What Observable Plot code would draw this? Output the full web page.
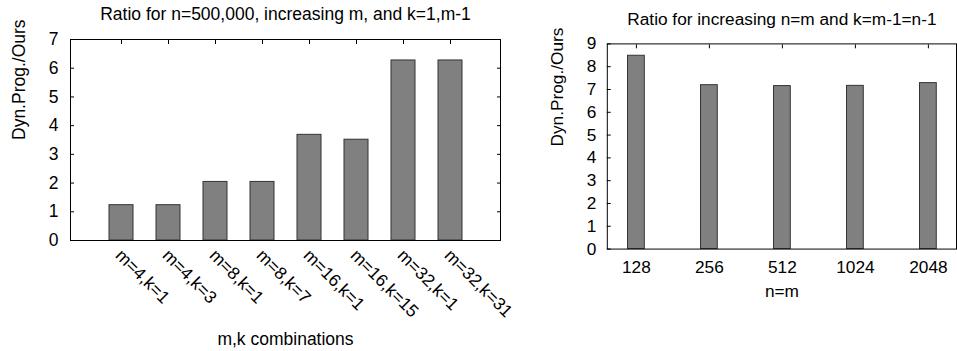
<!DOCTYPE html>
<html><head><meta charset="utf-8">
<script src="https://cdn.jsdelivr.net/npm/d3@7"></script>
<script src="https://cdn.jsdelivr.net/npm/@observablehq/plot@0.6"></script>
<style>
body{margin:0;background:#fff;}
#wrap{position:relative;width:957px;height:351px;overflow:hidden;background:#fff;}
#left,#right{position:absolute;top:0;}
#left{left:0;}
#right{left:520px;}
svg{display:block;}
</style></head>
<body><div id="wrap"><div id="left"></div><div id="right"></div></div>
<script>
// ---- data ----
const leftTitle = "Ratio for n=500,000, increasing m, and k=1,m-1";
const leftLabels = ["m=4,k=1","m=4,k=3","m=8,k=1","m=8,k=7","m=16,k=1","m=16,k=15","m=32,k=1","m=32,k=31"];
const leftValues = [1.23, 1.23, 2.04, 2.04, 3.68, 3.51, 6.27, 6.27];
const leftYTicks = [0,1,2,3,4,5,6,7];
const leftXLabel = "m,k combinations";

const rightTitle = "Ratio for increasing n=m and k=m-1=n-1";
const rightLabels = ["128","256","512","1024","2048"];
const rightValues = [8.48, 7.19, 7.15, 7.16, 7.28];
const rightYTicks = [0,1,2,3,4,5,6,7,8,9];
const rightXLabel = "n=m";

const yLabel = "Dyn.Prog./Ours";

const leftData = leftLabels.map((label, i) => ({label, value: leftValues[i]}));
const rightData = rightLabels.map((label, i) => ({label, value: rightValues[i]}));

const style = {fontFamily: "'Liberation Sans', Arial, sans-serif", fontSize: "17.5px", color: "black", background: "white", overflow: "visible"};
const barStyle = {fill: "#808080", stroke: "#333", strokeWidth: 1};
const blank = () => "";
const intFmt = d => String(d);

const left = Plot.plot({
  width: 520, height: 351,
  marginLeft: 70, marginRight: 20, marginTop: 39, marginBottom: 111,
  style,
  x: {type: "band", domain: leftLabels, paddingInner: 0.5, paddingOuter: 0.73},
  y: {domain: [0, 7]},
  marks: [
    Plot.barY(leftData, {x: "label", y: "value", ...barStyle}),
    Plot.frame({stroke: "black"}),
    Plot.axisY({anchor: "left", ticks: leftYTicks, tickSize: 0, tickPadding: 12, tickFormat: intFmt, label: null}),
    Plot.axisY({anchor: "left", ticks: leftYTicks, tickSize: 4, dx: 4, tickFormat: blank, label: null}),
    Plot.axisY({anchor: "right", ticks: leftYTicks, tickSize: 4, dx: -4, tickFormat: blank, label: null}),
    Plot.axisX({anchor: "top", tickSize: 4, dy: 4, tickFormat: blank, label: null}),
    Plot.text(leftLabels, {x: d => d, text: d => d, frameAnchor: "bottom", rotate: 45, textAnchor: "start", lineAnchor: "middle", dx: -3, dy: 12}),
    Plot.text([leftTitle], {text: d => d, frameAnchor: "top", lineAnchor: "middle", dy: -25}),
    Plot.text([yLabel], {text: d => d, frameAnchor: "left", lineAnchor: "middle", rotate: -90, dx: -51}),
    Plot.text([leftXLabel], {text: d => d, frameAnchor: "bottom", lineAnchor: "middle", dy: 99})
  ]
});
document.getElementById("left").append(left);

const right = Plot.plot({
  width: 443, height: 351,
  marginLeft: 88, marginRight: 1, marginTop: 44, marginBottom: 99,
  style,
  x: {type: "band", domain: rightLabels, paddingInner: 0.773, paddingOuter: 0.247},
  y: {domain: [0, 9]},
  marks: [
    Plot.barY(rightData, {x: "label", y: "value", ...barStyle}),
    Plot.frame({stroke: "black"}),
    Plot.axisY({anchor: "left", ticks: rightYTicks, tickSize: 0, tickPadding: 11, tickFormat: intFmt, label: null}),
    Plot.axisY({anchor: "left", ticks: rightYTicks, tickSize: 4, dx: 4, tickFormat: blank, label: null}),
    Plot.axisX({anchor: "top", tickSize: 4, dy: 4, tickFormat: blank, label: null}),
    Plot.axisX({anchor: "bottom", tickSize: 0, tickPadding: 12, label: null}),
    Plot.text([rightTitle], {text: d => d, frameAnchor: "top", lineAnchor: "middle", dy: -25}),
    Plot.text([yLabel], {text: d => d, frameAnchor: "left", lineAnchor: "middle", rotate: -90, dx: -51}),
    Plot.text([rightXLabel], {text: d => d, frameAnchor: "bottom", lineAnchor: "middle", dy: 43})
  ]
});
document.getElementById("right").append(right);
</script>
</body></html>
